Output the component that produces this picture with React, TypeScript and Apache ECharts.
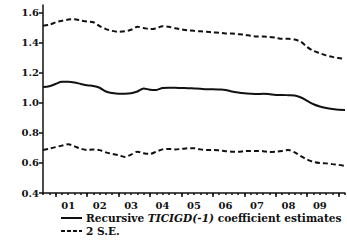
import React, { useEffect, useRef } from "react";
import * as echarts from "echarts";

// time in years (decimal)
const dates = [
  2000.6, 2000.8, 2001.0, 2001.2, 2001.4, 2001.6, 2001.8, 2002.0, 2002.2, 2002.4,
  2002.6, 2002.8, 2003.0, 2003.2, 2003.4, 2003.6, 2003.8, 2004.0, 2004.2, 2004.4,
  2004.6, 2004.8, 2005.0, 2005.2, 2005.4, 2005.6, 2005.8, 2006.0, 2006.2, 2006.4,
  2006.6, 2006.8, 2007.0, 2007.2, 2007.4, 2007.6, 2007.8, 2008.0, 2008.2, 2008.4,
  2008.6, 2008.8, 2009.0, 2009.2, 2009.4, 2009.6, 2009.8, 2010.0, 2010.2,
];

const estimates = [
  1.105, 1.11, 1.125, 1.14, 1.14, 1.135, 1.125, 1.116, 1.112, 1.1,
  1.075, 1.065, 1.06, 1.06, 1.063, 1.075, 1.095, 1.087, 1.085, 1.098,
  1.1, 1.1, 1.098, 1.097, 1.095, 1.093, 1.09, 1.09, 1.088, 1.085,
  1.075, 1.068, 1.063, 1.06, 1.058, 1.06, 1.057, 1.052, 1.052, 1.05,
  1.048, 1.035, 1.012, 0.99, 0.975, 0.965, 0.958, 0.953, 0.952,
];

const upper = [
  1.512, 1.518, 1.535, 1.545, 1.553, 1.555, 1.547, 1.54, 1.535, 1.51,
  1.49, 1.478, 1.472, 1.475, 1.485, 1.505, 1.497, 1.49, 1.495, 1.508,
  1.505, 1.495, 1.488, 1.482, 1.478, 1.475, 1.472, 1.468, 1.465, 1.461,
  1.46, 1.456, 1.452, 1.445, 1.44, 1.44, 1.438, 1.432, 1.425, 1.425,
  1.42, 1.405, 1.37, 1.345, 1.33, 1.315, 1.305, 1.298, 1.29,
];

const lower = [
  0.686, 0.695, 0.705, 0.715, 0.724, 0.71, 0.695, 0.686, 0.69, 0.685,
  0.67, 0.66, 0.652, 0.64, 0.655, 0.675, 0.665, 0.66, 0.675, 0.69,
  0.693, 0.69, 0.693, 0.697, 0.698, 0.69, 0.686, 0.686, 0.683, 0.678,
  0.675, 0.675, 0.678, 0.68, 0.68, 0.678, 0.672, 0.675, 0.68, 0.686,
  0.67, 0.645, 0.622, 0.607, 0.6, 0.597, 0.592, 0.587, 0.58,
];

const yTicks = [0.4, 0.6, 0.8, 1.0, 1.2, 1.4, 1.6];
const xLabelPositions = [2001.4, 2002.4, 2003.4, 2004.4, 2005.4, 2006.4, 2007.4, 2008.4, 2009.4];
const xLabelTexts = ["01", "02", "03", "04", "05", "06", "07", "08", "09"];
const yearBoundaries = [2001, 2002, 2003, 2004, 2005, 2006, 2007, 2008, 2009, 2010];

const legendEstText = "Recursive {i|TICIGD(-1)} coefficient estimates";
const legendSeText = "2 S.E.";

const FONT = "DejaVu Serif";
const INK = "#111";
const LEG_SIZE = 10.6;

export default function App() {
  const ref = useRef<HTMLDivElement>(null);
  useEffect(() => {
    if (!ref.current) return;
    const chart = echarts.init(ref.current, null, { renderer: "svg" });
    const pair = (arr: number[]) => dates.map((d, i) => [d, arr[i]]);
    chart.setOption({
      animation: false,
      backgroundColor: "#fff",
      grid: { left: 43, right: 2, top: 5, bottom: 53, containLabel: false },
      xAxis: [
        {
          type: "value",
          position: "bottom",
          min: 2000.6,
          max: 2010.2,
          axisLine: { show: true, onZero: false, lineStyle: { color: INK, width: 1.5 } },
          axisTick: { show: true, length: 2, customValues: dates, lineStyle: { color: INK, width: 1.5 } },
          axisLabel: {
            show: true,
            customValues: xLabelPositions,
            formatter: (v: number) => {
              const idx = xLabelPositions.findIndex((p) => Math.abs(p - v) < 0.01);
              return idx >= 0 ? xLabelTexts[idx] : "";
            },
            fontFamily: FONT,
            fontWeight: "bold",
            fontSize: 10,
            color: INK,
            margin: 7,
          },
          splitLine: { show: false },
        },
        {
          type: "value",
          position: "bottom",
          offset: 0,
          min: 2000.6,
          max: 2010.2,
          axisLine: { show: false },
          axisTick: { show: true, length: 4, customValues: yearBoundaries, lineStyle: { color: INK, width: 1.5 } },
          axisLabel: { show: false },
          splitLine: { show: false },
        },
      ],
      yAxis: {
        type: "value",
        min: 0.4,
        max: 1.65,
        axisLine: { show: true, onZero: false, lineStyle: { color: INK, width: 1.5 } },
        axisTick: { show: true, length: 4, customValues: yTicks, lineStyle: { color: INK, width: 1.5 } },
        axisLabel: {
          show: true,
          customValues: yTicks,
          formatter: (v: number) => v.toFixed(1),
          fontFamily: FONT,
          fontWeight: "bold",
          fontSize: 10,
          color: INK,
          margin: 4,
        },
        splitLine: { show: false },
      },
      graphic: [
        {
          type: "line",
          shape: { x1: 61, y1: 218, x2: 82, y2: 218 },
          style: { stroke: INK, lineWidth: 2 },
        },
        {
          type: "text",
          x: 86,
          y: 218,
          style: {
            text: legendEstText,
            fontFamily: FONT,
            fontWeight: "bold",
            fontSize: LEG_SIZE,
            fill: INK,
            verticalAlign: "middle",
            rich: {
              i: { fontFamily: FONT, fontWeight: "bold", fontStyle: "italic", fontSize: LEG_SIZE, fill: INK },
            },
          },
        },
        {
          type: "line",
          shape: { x1: 61, y1: 231, x2: 82, y2: 231 },
          style: { stroke: INK, lineWidth: 2, lineDash: [4, 2] },
        },
        {
          type: "text",
          x: 86,
          y: 231,
          style: {
            text: legendSeText,
            fontFamily: FONT,
            fontWeight: "bold",
            fontSize: LEG_SIZE,
            fill: INK,
            verticalAlign: "middle",
          },
        },
      ],
      series: [
        {
          name: "est",
          type: "line",
          data: pair(estimates),
          symbol: "none",
          smooth: 0.3,
          lineStyle: { color: INK, width: 2 },
        },
        {
          name: "2 S.E.",
          type: "line",
          data: pair(upper),
          symbol: "none",
          smooth: 0.3,
          lineStyle: { color: INK, width: 2, type: [5, 3] },
        },
        {
          name: "2 S.E.",
          type: "line",
          data: pair(lower),
          symbol: "none",
          smooth: 0.3,
          lineStyle: { color: INK, width: 2, type: [5, 3] },
        },
      ],
    });
    return () => chart.dispose();
  }, []);
  return (
    <div
      ref={ref}
      style={{ position: "fixed", left: 0, top: 0, width: 347, height: 246, background: "#fff" }}
    />
  );
}
